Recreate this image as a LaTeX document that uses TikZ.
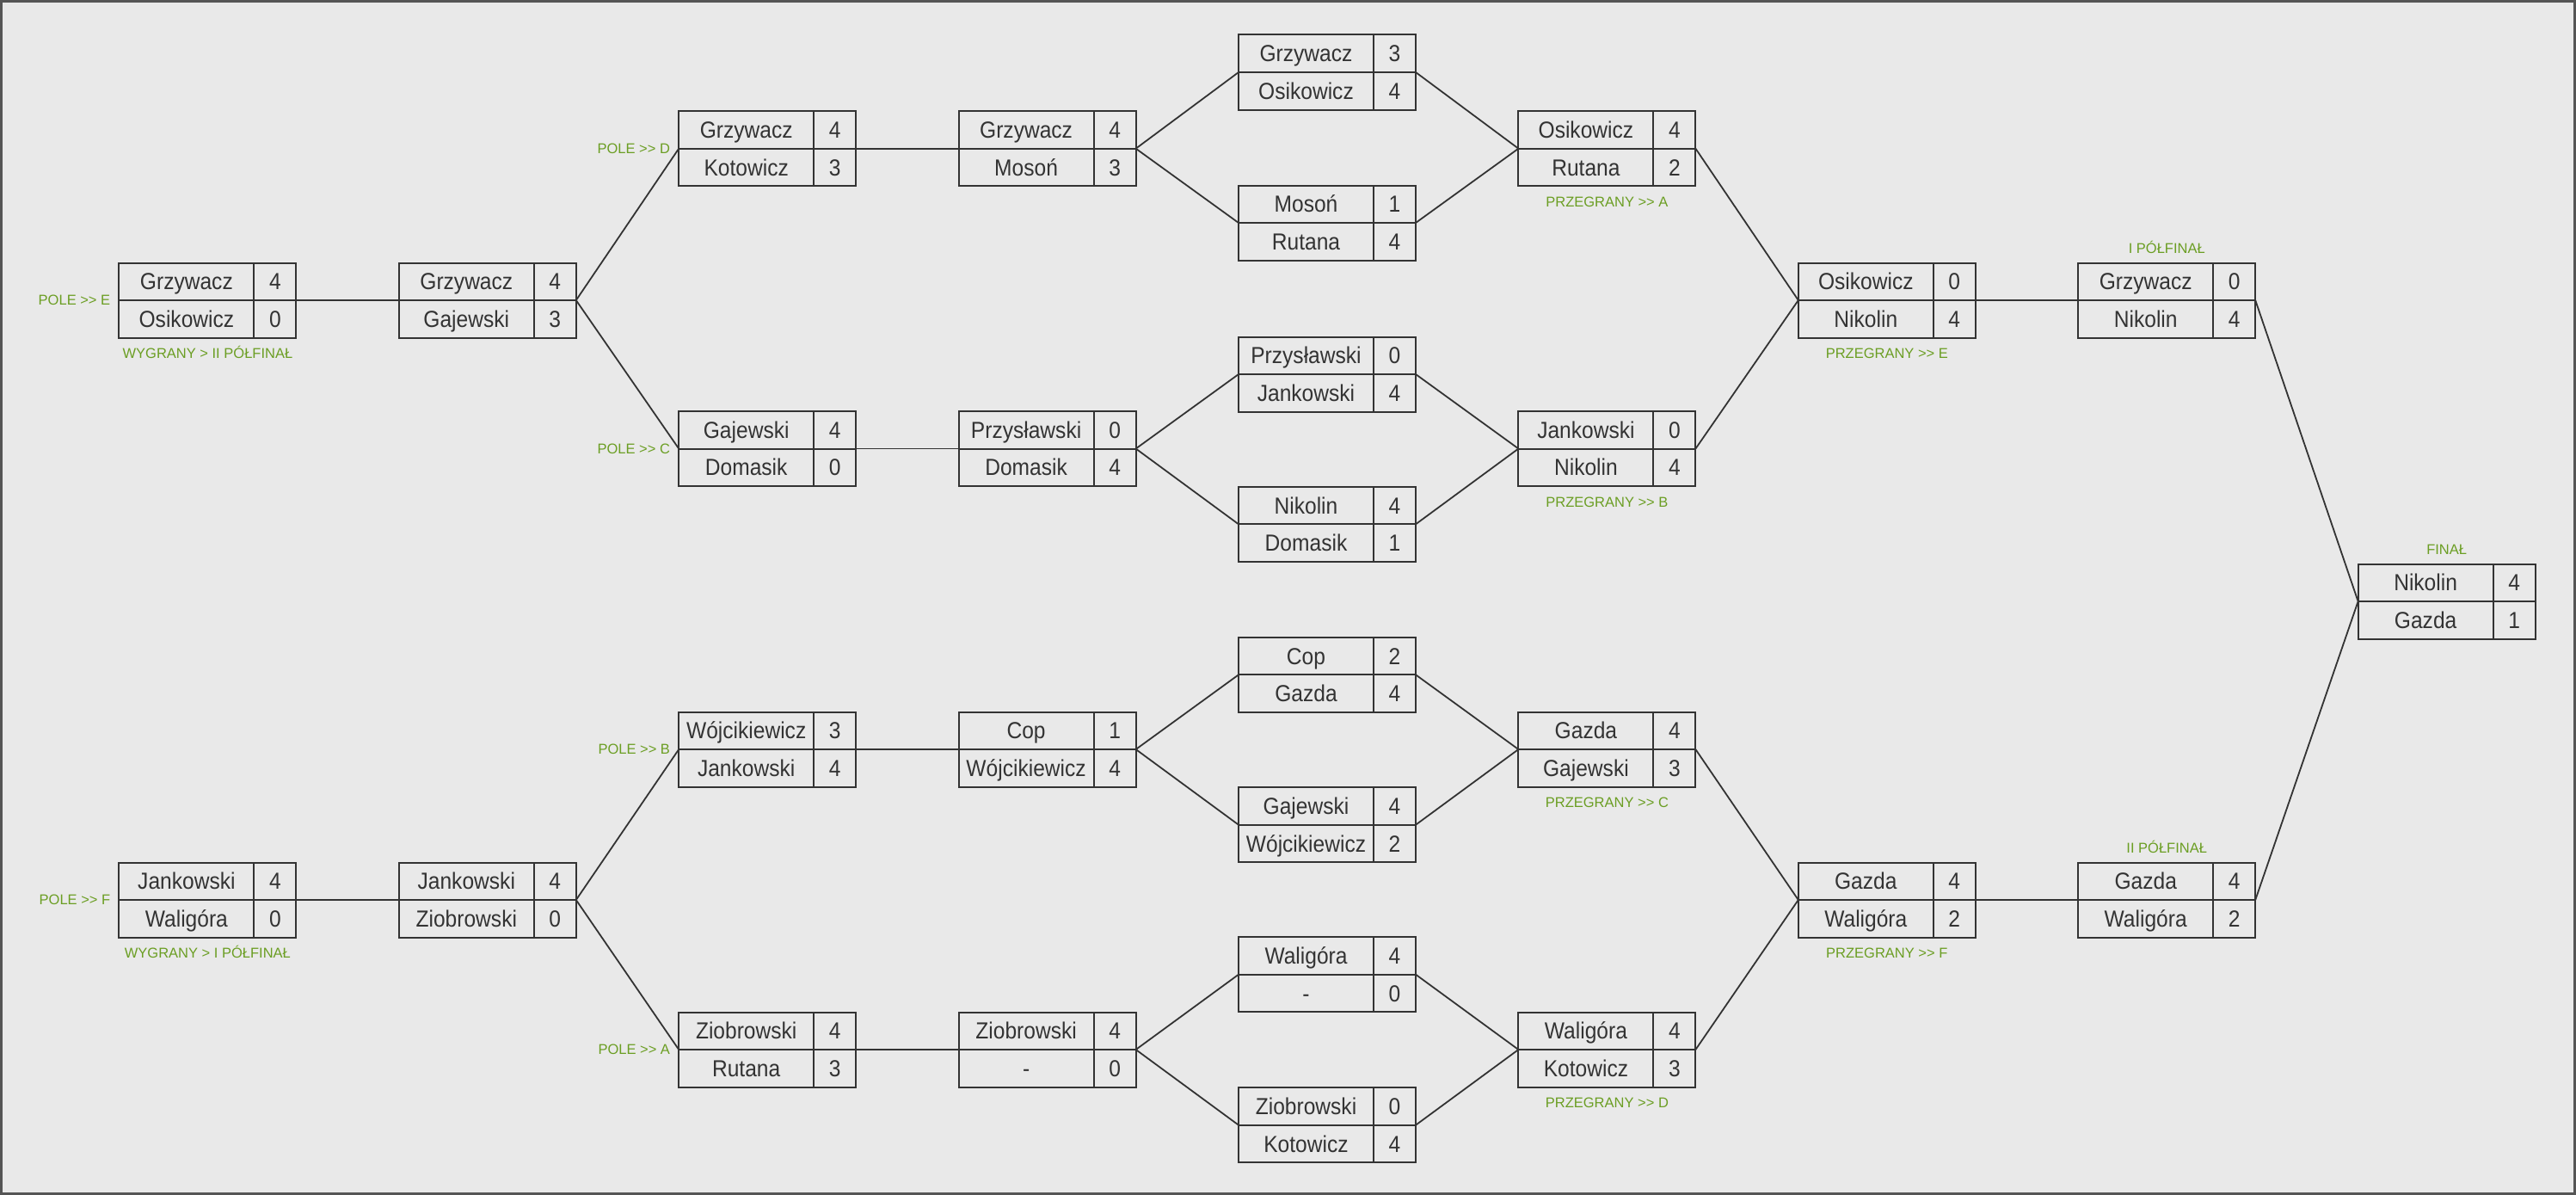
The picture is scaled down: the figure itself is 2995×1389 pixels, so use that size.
\documentclass[tikz,border=0pt]{standalone}
\usepackage{fontspec}
\setmainfont{Liberation Sans}
\newfontfamily\cellfont[FakeStretch=0.91]{Liberation Sans}
\usetikzlibrary{calc}
\definecolor{bg}{HTML}{E9E9E9}
\definecolor{framecol}{HTML}{555555}
\definecolor{ink}{HTML}{333333}
\definecolor{lbl}{HTML}{6B9E23}
\tikzset{
  cell/.style={draw=ink, line width=2pt, inner sep=0pt, outer sep=0pt,
    minimum height=43.5pt, text=ink, font=\cellfont\fontsize{27}{31}\selectfont,
    text height=19.3pt, text depth=0pt},
  namecell/.style={cell, minimum width=157pt},
  scorecell/.style={cell, minimum width=49pt},
  conn/.style={draw=ink, line width=1.8pt},
  lab/.style={text=lbl, font=\fontsize{16.5}{18}\selectfont, inner sep=0pt,
    text height=11.8pt, text depth=0pt},
}
\newcommand\match[7]{%
  \node[namecell, anchor=south west] (#1-n1) at (#2,#3) {#4};
  \node[scorecell, anchor=south west] (#1-s1) at (#1-n1.south east) {#5};
  \node[namecell, anchor=north west] (#1-n2) at (#2,#3) {#6};
  \node[scorecell, anchor=north west] (#1-s2) at (#1-n2.north east) {#7};
}
\newcommand\link[2]{\draw[conn] (#1-s1.south east) -- (#2-n1.south west);}
\newcommand\lableft[3]{\node[lab, anchor=east] (#1) at ($(#2-n1.south west)+(-10,0)$) {#3};}
\newcommand\labbelow[3]{\node[lab] (#1) at ($(#2-n2.south west)+(103,18.5)$) {#3};}
\newcommand\lababove[3]{\node[lab] (#1) at ($(#2-n1.north west)+(103,-16.5)$) {#3};}
\begin{document}
\begin{tikzpicture}[x=1pt,y=-1pt]
\useasboundingbox (0,0) rectangle (2995,1389);
\fill[bg] (0,0) rectangle (2995,1389);
\draw[framecol, line width=3pt] (1.5,1.5) rectangle (2993.5,1387.5);

% column 1
\match{m1u}{138.4}{349}{Grzywacz}{4}{Osikowicz}{0}
\match{m1l}{138.4}{1046}{Jankowski}{4}{Waligóra}{0}
% column 2
\match{m2u}{463.8}{349}{Grzywacz}{4}{Gajewski}{3}
\match{m2l}{463.8}{1046}{Jankowski}{4}{Ziobrowski}{0}
% column 3
\match{m3a}{789.2}{172.7}{Grzywacz}{4}{Kotowicz}{3}
\match{m3b}{789.2}{521.5}{Gajewski}{4}{Domasik}{0}
\match{m3c}{789.2}{871}{Wójcikiewicz}{3}{Jankowski}{4}
\match{m3d}{789.2}{1220}{Ziobrowski}{4}{Rutana}{3}
% column 4
\match{m4a}{1114.6}{172.7}{Grzywacz}{4}{Mosoń}{3}
\match{m4b}{1114.6}{521.5}{Przysławski}{0}{Domasik}{4}
\match{m4c}{1114.6}{871}{Cop}{1}{Wójcikiewicz}{4}
\match{m4d}{1114.6}{1220}{Ziobrowski}{4}{-}{0}
% column 5
\match{m5a}{1440}{84}{Grzywacz}{3}{Osikowicz}{4}
\match{m5b}{1440}{259}{Mosoń}{1}{Rutana}{4}
\match{m5c}{1440}{435}{Przysławski}{0}{Jankowski}{4}
\match{m5d}{1440}{609.3}{Nikolin}{4}{Domasik}{1}
\match{m5e}{1440}{784.3}{Cop}{2}{Gazda}{4}
\match{m5f}{1440}{958.7}{Gajewski}{4}{Wójcikiewicz}{2}
\match{m5g}{1440}{1132.7}{Waligóra}{4}{-}{0}
\match{m5h}{1440}{1307.7}{Ziobrowski}{0}{Kotowicz}{4}
% column 6
\match{m6a}{1765.4}{172.7}{Osikowicz}{4}{Rutana}{2}
\match{m6b}{1765.4}{521.5}{Jankowski}{0}{Nikolin}{4}
\match{m6c}{1765.4}{871}{Gazda}{4}{Gajewski}{3}
\match{m6d}{1765.4}{1220}{Waligóra}{4}{Kotowicz}{3}
% column 7
\match{m7u}{2090.8}{349}{Osikowicz}{0}{Nikolin}{4}
\match{m7l}{2090.8}{1046}{Gazda}{4}{Waligóra}{2}
% column 8
\match{m8u}{2416.2}{349}{Grzywacz}{0}{Nikolin}{4}
\match{m8l}{2416.2}{1046}{Gazda}{4}{Waligóra}{2}
% column 9
\match{m9}{2741.6}{699}{Nikolin}{4}{Gazda}{1}

% connectors
\link{m1u}{m2u}
\link{m1l}{m2l}
\link{m2u}{m3a}
\link{m2u}{m3b}
\link{m2l}{m3c}
\link{m2l}{m3d}
\link{m3a}{m4a}
\link{m3b}{m4b}
\link{m3c}{m4c}
\link{m3d}{m4d}
\link{m4a}{m5a}
\link{m4a}{m5b}
\link{m4b}{m5c}
\link{m4b}{m5d}
\link{m4c}{m5e}
\link{m4c}{m5f}
\link{m4d}{m5g}
\link{m4d}{m5h}
\link{m5a}{m6a}
\link{m5b}{m6a}
\link{m5c}{m6b}
\link{m5d}{m6b}
\link{m5e}{m6c}
\link{m5f}{m6c}
\link{m5g}{m6d}
\link{m5h}{m6d}
\link{m6a}{m7u}
\link{m6b}{m7u}
\link{m6c}{m7l}
\link{m6d}{m7l}
\link{m7u}{m8u}
\link{m7l}{m8l}
\link{m8u}{m9}
\link{m8l}{m9}

% labels
\lableft{lpe}{m1u}{POLE >{}> E}
\lableft{lpf}{m1l}{POLE >{}> F}
\labbelow{lw2}{m1u}{WYGRANY > II PÓŁFINAŁ}
\labbelow{lw1}{m1l}{WYGRANY > I PÓŁFINAŁ}
\lableft{lpd}{m3a}{POLE >{}> D}
\lableft{lpc}{m3b}{POLE >{}> C}
\lableft{lpb}{m3c}{POLE >{}> B}
\lableft{lpa}{m3d}{POLE >{}> A}
\labbelow{lpra}{m6a}{PRZEGRANY >{}> A}
\labbelow{lprb}{m6b}{PRZEGRANY >{}> B}
\labbelow{lprc}{m6c}{PRZEGRANY >{}> C}
\labbelow{lprd}{m6d}{PRZEGRANY >{}> D}
\labbelow{lpre}{m7u}{PRZEGRANY >{}> E}
\labbelow{lprf}{m7l}{PRZEGRANY >{}> F}
\lababove{lsf1}{m8u}{I PÓŁFINAŁ}
\lababove{lsf2}{m8l}{II PÓŁFINAŁ}
\lababove{lfin}{m9}{FINAŁ}
\end{tikzpicture}
\end{document}
